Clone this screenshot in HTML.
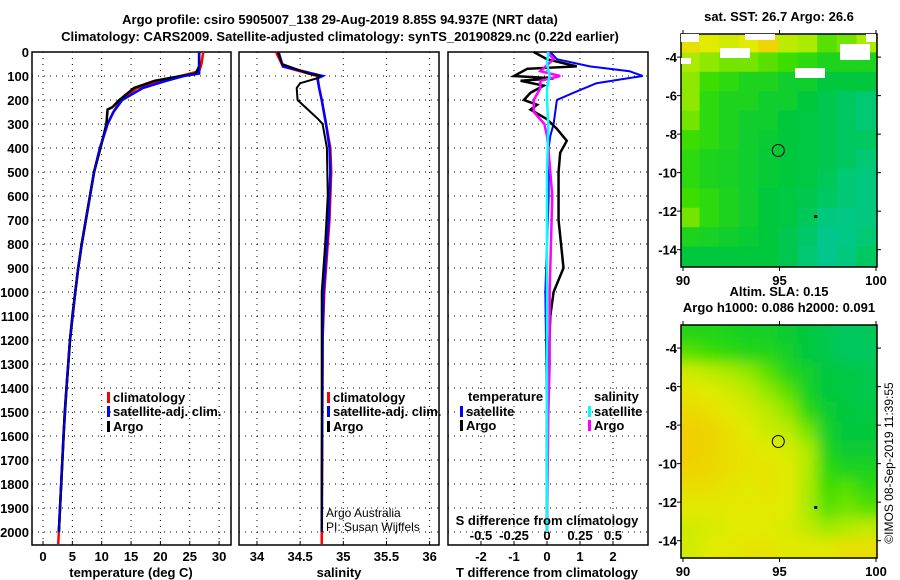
<!DOCTYPE html>
<html><head><meta charset="utf-8"><style>
body{margin:0;background:#fff}
svg{display:block;font-family:"Liberation Sans",sans-serif}
.b{font-weight:bold;font-size:13px}
</style></head><body>
<svg id="s" width="900" height="580" viewBox="0 0 900 580">
<text class="b" x="340" y="24" text-anchor="middle" font-size="14">Argo profile: csiro 5905007_138 29-Aug-2019 8.85S 94.937E (NRT data)</text>
<text class="b" x="340" y="41" text-anchor="middle" font-size="14">Climatology: CARS2009. Satellite-adjusted climatology: synTS_20190829.nc (0.22d earlier)</text>
<g id="g"></g>
</svg>
<script>
// ---- data ----
const depthTicks=[0,100,200,300,400,500,600,700,800,900,1000,1100,1200,1300,1400,1500,1600,1700,1800,1900,2000];
const tempTicks=[0,5,10,15,20,25,30];
const salTicks=[34,34.5,35,35.5,36];
const salTickLabels=["34","34.5","35","35.5","36"];
const dTTicks=[-2,-1,0,1,2];
const dSTicks=[-0.5,-0.25,0,0.25,0.5];
const dSTickLabels=["-0.5","-0.25","0","0.25","0.5"];
const tempArgoDepth=[0,60,90,100,120,150,200,230,240,300,400,500,600,700,800,900,1000,1100,1200,1300,1400,1500,1600,1700,1800,1900,2000];
const tempArgo=[26.6,26.6,26,23.5,19,15.5,13,11.8,11,10.8,9.8,8.7,8,7.3,6.6,6,5.5,5,4.6,4.3,4,3.7,3.5,3.3,3.1,2.9,2.7];
const tempClimDepth=[0,50,80,100,120,150,200,250,300,400,500,600,700,800,900,1000,1200,1400,1600,1800,2000,2050];
const tempClim=[27.3,27,26.6,23.5,20,16,13.2,12,11,9.7,8.7,8,7.3,6.6,6,5.5,4.6,4,3.5,3.1,2.7,2.6];
const tempSatDepth=[0,90,100,120,150,200,250,300,400,500,600,700,800,900,1000,1200,1400,1600,1800,2000];
const tempSat=[26.6,26.6,24,21,17,13.5,12,11,9.7,8.7,8,7.3,6.6,6,5.5,4.6,4,3.5,3.1,2.7];
const salArgoDepth=[0,50,90,100,110,130,150,200,250,280,300,400,600,800,1000,1500,2000];
const salArgo=[34.24,34.29,34.6,34.73,34.69,34.5,34.46,34.47,34.62,34.71,34.76,34.81,34.82,34.79,34.75,34.75,34.75];
const salClimDepth=[0,60,100,150,200,300,400,500,700,1000,1200,2050];
const salClim=[34.22,34.3,34.7,34.72,34.75,34.8,34.85,34.86,34.84,34.78,34.76,34.75];
const salSatDepth=[0,60,100,110,150,200,300,400,500,700,1000,1200,2000];
const salSat=[34.25,34.3,34.76,34.7,34.72,34.75,34.8,34.84,34.85,34.83,34.77,34.76,34.75];
const dTSatDepth=[0,30,60,80,100,130,170,200,300,350,400,600,800,1000,1500,2000];
const dTSat=[0.1,0.3,1.3,2.5,2.9,1.5,0.8,0.3,0.2,0.1,0.05,0.05,0,-0.05,0,0];
const dTArgoDepth=[0,30,60,70,100,110,120,140,170,200,220,240,280,320,370,420,500,700,900,1000,1100,1300,1500,2000];
const dTArgo=[-0.4,0,0.9,-0.6,-1,0.2,-0.8,-0.1,-0.5,-0.7,-0.3,-0.5,0,0.3,0.6,0.4,0.35,0.35,0.5,0.2,0.1,0.05,0,0];
const dSArgoDepth=[0,30,80,100,120,150,200,250,300,350,400,600,800,1000,1300,1500,2000];
const dSArgo=[0,0.05,-0.05,0.1,-0.05,-0.05,-0.1,-0.1,-0.02,0,0.01,0.04,0.03,0.02,0.02,0.01,0];
const dSSatDepth=[0,50,100,150,200,300,500,1000,2000];
const dSSat=[0.01,0,0.02,0,0,0.01,0,0,0];
const sstGrid=[
[0.9,0.85,0.8,0.85,0.95,0.75,0.7,0.55,0.6,0.7],
[0.7,0.65,0.6,0.6,0.55,0.5,0.45,0.4,0.4,0.4],
[0.65,0.5,0.45,0.4,0.4,0.35,0.35,0.3,0.3,0.3],
[0.65,0.45,0.4,0.4,0.35,0.35,0.3,0.25,0.2,0.15],
[0.6,0.45,0.4,0.35,0.35,0.3,0.28,0.25,0.2,0.15],
[0.5,0.45,0.4,0.35,0.33,0.3,0.28,0.25,0.2,0.2],
[0.45,0.4,0.38,0.35,0.32,0.3,0.28,0.25,0.2,0.15],
[0.45,0.4,0.38,0.35,0.32,0.3,0.28,0.22,0.15,0.12],
[0.5,0.45,0.4,0.35,0.3,0.28,0.25,0.2,0.15,0.12],
[0.6,0.45,0.4,0.35,0.3,0.28,0.22,0.12,0.1,0.12],
[0.4,0.38,0.35,0.33,0.3,0.25,0.18,0.08,0.1,0.15],
[0.3,0.3,0.3,0.3,0.3,0.25,0.15,0.08,0.12,0.2]];
const slaGrid=[
[0.42,0.42,0.4,0.38,0.36,0.33,0.3,0.25,0.2,0.22],
[0.55,0.5,0.45,0.42,0.42,0.36,0.3,0.25,0.2,0.2],
[0.8,0.75,0.7,0.65,0.55,0.42,0.36,0.3,0.28,0.25],
[0.88,0.85,0.8,0.75,0.65,0.55,0.38,0.3,0.28,0.25],
[0.92,0.9,0.85,0.8,0.75,0.65,0.45,0.33,0.3,0.28],
[0.97,0.95,0.9,0.85,0.78,0.75,0.6,0.36,0.3,0.3],
[0.97,0.95,0.9,0.88,0.85,0.82,0.72,0.4,0.33,0.33],
[0.95,0.93,0.9,0.88,0.88,0.85,0.72,0.45,0.4,0.4],
[0.9,0.9,0.88,0.86,0.88,0.85,0.7,0.5,0.55,0.45],
[0.86,0.86,0.86,0.86,0.86,0.85,0.7,0.55,0.6,0.55],
[0.8,0.82,0.85,0.85,0.85,0.82,0.76,0.68,0.72,0.76],
[0.8,0.85,0.86,0.88,0.88,0.86,0.86,0.86,0.9,0.9]];
const latTicks=[-4,-6,-8,-10,-12,-14];
const lonTicks=[90,95,100];
const argoLon=94.937, argoLat=-8.85;

// ---- drawing ----
const NS="http://www.w3.org/2000/svg";
const G=document.getElementById('g');
function mk(t,a,p){const e=document.createElementNS(NS,t);for(const k in a)e.setAttribute(k,a[k]);(p||G).appendChild(e);return e;}
function txt(x,y,s,a){const e=mk('text',Object.assign({x:x,y:y},a||{}));e.textContent=s;return e;}
const Y=d=>52+d*0.24;
const TOP=52,BOT=545;
function panel(name,L,R){
  const r=mk('rect',{x:L,y:TOP,width:R-L,height:BOT-TOP,fill:'none',stroke:'#000','stroke-width':1.5});
  
  depthTicks.forEach(d=>{if(d>0){const l=mk('line',{x1:L,x2:R,y1:Y(d),y2:Y(d),stroke:'#000','stroke-dasharray':'1 5'});}});
}
function vgrid(name,xs){xs.forEach(x=>{const l=mk('line',{x1:x,x2:x,y1:TOP,y2:BOT,stroke:'#000','stroke-dasharray':'1 5'});mk('line',{x1:x,x2:x,y1:BOT,y2:BOT-4,stroke:'#000'});});}
function line(name,xs,ds,fx,col,w){const p=mk('polyline',{points:xs.map((v,i)=>fx(v)+','+Y(ds[i])).join(' '),fill:'none',stroke:col,'stroke-width':w||2.5});}
// panel 1
const xT=t=>43+t*5.87;
panel('temperature-panel',32,231);
vgrid('temperature-panel',tempTicks.map(xT));
depthTicks.forEach(d=>{const t=txt(29,Y(d)+5,String(d),{'class':'b','text-anchor':'end'});});
tempTicks.forEach(v=>{const t=txt(xT(v),561,String(v),{'class':'b','text-anchor':'middle'});});
line('temperature-climatology',tempClim,tempClimDepth,xT,'#f00');
line('temperature-satellite',tempSat,tempSatDepth,xT,'#00f');
line('temperature-argo',tempArgo,tempArgoDepth,xT,'#000',2.5);
line('temperature-satellite-top',tempSat,tempSatDepth,xT,'#00f',1.5);
let t1=txt(131,577,'temperature (deg C)',{'class':'b','text-anchor':'middle'});
// panel 2
const xS=s=>257+(s-34)*86.3;
panel('salinity-panel',239,439);
vgrid('salinity-panel',salTicks.map(xS));
salTicks.forEach((v,i)=>{const t=txt(xS(v),561,salTickLabels[i],{'class':'b','text-anchor':'middle'});});
line('salinity-climatology',salClim,salClimDepth,xS,'#f00');
line('salinity-satellite',salSat,salSatDepth,xS,'#00f');
line('salinity-argo',salArgo,salArgoDepth,xS,'#000',2);
let t2=txt(339,577,'salinity',{'class':'b','text-anchor':'middle'});
let a1=txt(326,517,'Argo Australia',{'font-size':12});
let a2=txt(326,531,'PI: Susan Wijffels',{'font-size':12});
// panel 3
const xDT=v=>547+v*33, xDS=v=>547+v*132;
panel('difference-panel',448,648);
vgrid('difference-panel',dTTicks.map(xDT));
dTTicks.forEach(v=>{const t=txt(xDT(v),561,String(v),{'class':'b','text-anchor':'middle'});});
dSTicks.forEach((v,i)=>{const t=txt(xDS(v),540,dSTickLabels[i],{'class':'b','text-anchor':'middle'});});
line('t-diff-satellite',dTSat,dTSatDepth,xDT,'#00f',2);
line('t-diff-argo',dTArgo,dTArgoDepth,xDT,'#000',2.5);
line('s-diff-argo',dSArgo,dSArgoDepth,xDS,'#f0f',2.5);
line('s-diff-satellite',dSSat,dSSatDepth,xDS,'#0ff',2.5);
let t3=txt(547,577,'T difference from climatology',{'class':'b','text-anchor':'middle'});
let t4=txt(547,525,'S difference from climatology',{'class':'b','text-anchor':'middle'});
// legends
function leg(x,y,col,label,nm){const r=mk('rect',{x:x,y:y-10,width:3,height:11,fill:col});const t=txt(x+6,y,label,{'class':'b','font-size':12});}
leg(107,402,'#f00','climatology','legend-temp-climatology');
leg(107,416,'#00f','satellite-adj. clim.','legend-temp-satellite');
leg(107,431,'#000','Argo','legend-temp-argo');
leg(327,402,'#f00','climatology','legend-sal-climatology');
leg(327,416,'#00f','satellite-adj. clim.','legend-sal-satellite');
leg(327,431,'#000','Argo','legend-sal-argo');
let lt=txt(468,401,'temperature',{'class':'b','font-size':12});
leg(460,416,'#00f','satellite','legend-dt-satellite');
leg(460,430,'#000','Argo','legend-dt-argo');
let ls=txt(594,401,'salinity',{'class':'b','font-size':12});
leg(588,416,'#0ff','satellite','legend-ds-satellite');
leg(588,430,'#f0f','Argo','legend-ds-argo');
// maps
function col(v){const st=[[0,[0,200,170]],[0.3,[0,200,60]],[0.5,[60,222,0]],[0.7,[170,235,0]],[0.85,[225,235,0]],[1,[245,200,0]]];for(let i=1;i<st.length;i++){if(v<=st[i][0]){const a=st[i-1],b=st[i],f=(v-a[0])/(b[0]-a[0]);return 'rgb('+a[1].map((c,j)=>Math.round(c+(b[1][j]-c)*f)).join(',')+')';}}return 'rgb(245,200,0)';}
function map(name,top,grid,blur,title){
  const L=681,R=877,Bt=top+233;
  const lat0=-2.8,lat1=-14.9;
  const mx=lon=>683+(lon-90)*19.3, my=lat=>top+(lat-lat0)/(lat1-lat0)*233;
  const cid='clip'+name;const cp=mk('clipPath',{id:cid});mk('rect',{x:L,y:top,width:R-L,height:233},cp);
  const g=mk('g',{'clip-path':'url(#'+cid+')'});
  const gi=mk('g',blur?{filter:'url(#bl)'}:{},g);
  const nr=grid.length,nc=grid[0].length,cw=(R-L)/nc,ch=233/nr;
  const pad=blur?25:1;
  grid.forEach((row,i)=>row.forEach((v,j)=>{
    const x0=L+j*cw-(j==0?pad:1), y0=top+i*ch-(i==0?pad:1);
    const w=cw+(j==0?pad:1)+(j==nc-1?pad:1), h=ch+(i==0?pad:1)+(i==nr-1?pad:1);
    const r=mk('rect',{x:x0,y:y0,width:w,height:h,fill:col(v)},gi);}));
  const fr=mk('rect',{x:L,y:top,width:R-L,height:233,fill:'none',stroke:'#000','stroke-width':1.5});
  latTicks.forEach(v=>{mk('line',{x1:R,x2:R+4,y1:my(v),y2:my(v),stroke:'#000'});mk('line',{x1:L-4,x2:L,y1:my(v),y2:my(v),stroke:'#000'});const t=txt(L-4,my(v)+5,String(v),{'class':'b','text-anchor':'end'});});
  lonTicks.forEach(v=>{mk('line',{x1:mx(v),x2:mx(v),y1:Bt,y2:Bt+4,stroke:'#000'});mk('line',{x1:mx(v),x2:mx(v),y1:top-4,y2:top,stroke:'#000'});const t=txt(mx(v),Bt+18,String(v),{'class':'b','text-anchor':'middle'});});
  const c=mk('circle',{cx:mx(argoLon),cy:my(argoLat),r:6,fill:'none',stroke:'#000'});
  mk('rect',{x:mx(96.8),y:my(-12.2),width:3,height:3,fill:'#000'});
  title.forEach((s,i)=>{const t=txt(779,top-13-(title.length-1-i)*16,s,{'class':'b','text-anchor':'middle'});});
}
const defs=mk('defs',{});const fl=mk('filter',{id:'bl',x:'-20%',y:'-20%',width:'140%',height:'140%'},defs);mk('feGaussianBlur',{stdDeviation:7,edgeMode:'duplicate'},fl);
map('sst-map',34,sstGrid,false,['sat. SST: 26.7 Argo: 26.6']);
// white no-data patches on SST map
[[681,34,18,8],[681,58,10,6],[720,48,30,10],[745,34,30,6],[795,68,30,10],[840,44,30,16],[866,34,10,8]].forEach(p=>{const r=mk('rect',{x:p[0],y:p[1],width:p[2],height:p[3],fill:'#fff'});});
map('sla-map',325,slaGrid,true,['Altim. SLA: 0.15','Argo h1000: 0.086 h2000: 0.091']);
const im=txt(0,0,'©IMOS 08-Sep-2019 11:39:55',{'font-size':12,'text-anchor':'middle',transform:'translate(893,463) rotate(-90)'});

</script>
</body></html>
